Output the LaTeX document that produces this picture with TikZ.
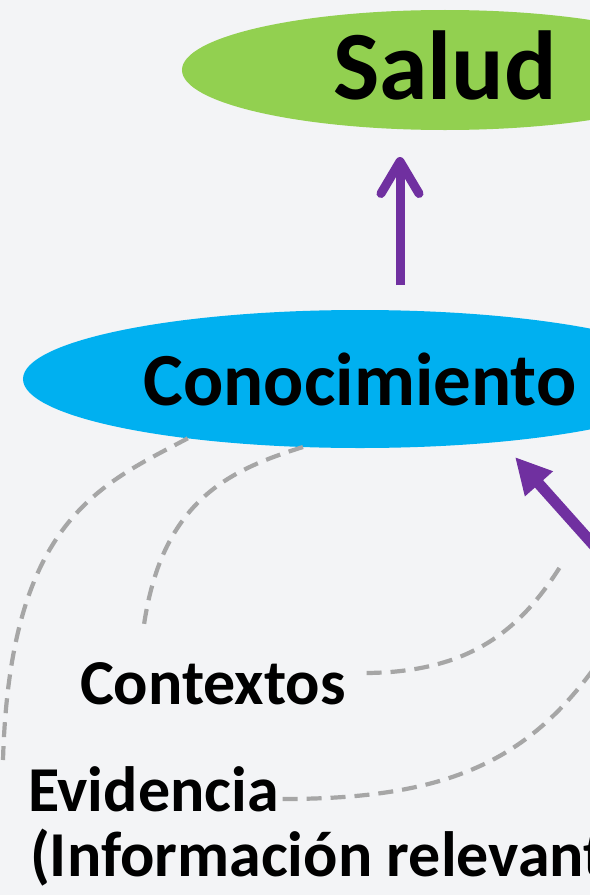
\documentclass[tikz,border=0pt]{standalone}
\usepackage{fontspec}
\setmainfont{Carlito}
\usetikzlibrary{shapes.geometric,arrows.meta}
\definecolor{bgc}{HTML}{F3F4F6}
\definecolor{sgreen}{HTML}{92D050}
\definecolor{sblue}{HTML}{00B0F0}
\definecolor{spurple}{HTML}{7030A0}
\definecolor{sgrey}{HTML}{A6A6A6}
\begin{document}
\begin{tikzpicture}[x=1bp,y=1bp,
  ell/.style={ellipse, inner sep=0pt, outer sep=0pt, draw=none},
  txt/.style={inner sep=0pt, outer sep=0pt, anchor=base west, text=black},
  bigtxt/.style={font=\fontsize{64bp}{64bp}\selectfont\bfseries},
  dashcurve/.style={draw=sgrey, line width=4.2bp, dash pattern=on 15bp off 9bp},
  uparr/.style={draw=spurple, line width=9bp, line cap=butt,
     -{Straight Barb[length=32bp,width=38bp,round]}},
  diagarr/.style={draw=spurple, line width=11bp,
     -{Triangle[length=36bp,width=35bp]}}
]
\useasboundingbox (0,0) rectangle (590,-895);
\clip (0,0) rectangle (590,-895);
\fill[bgc] (0,0) rectangle (590,-895);

% ellipses
\node[ell, fill=sgreen, minimum width=526bp, minimum height=120bp] (salud) at (445,-70) {};
\node[ell, fill=sblue, minimum width=674bp, minimum height=138bp] (con) at (360,-379) {};

% labels
\node[txt, anchor=base, font=\fontsize{98bp}{98bp}\selectfont\bfseries] (saludt) at (445,-99) {Salud};
\node[txt, anchor=base, font=\fontsize{75bp}{75bp}\selectfont\bfseries] (cont) at (360,-405) {Conocimiento};
\node[txt, bigtxt] (ctx) at (80,-704) {Contextos};
\node[txt, bigtxt] (evid) at (28,-811) {Evidencia};
\node[txt, bigtxt] (info) at (30,-876) {(Información relevante)};

% coordinates for free ends
\coordinate (upx) at (400,0);
\coordinate (src) at (640,-597);
\coordinate (tipB) at (515,-457);
\coordinate (afree) at (3,-760);
\coordinate (bfree) at (143,-632);
\coordinate (cfree) at (560,-567);
\coordinate (dfree) at (600,-660);

% arrows
\draw[uparr, shorten <=25bp, shorten >=27bp] (upx |- con.north) -- (upx |- salud.south);
\draw[diagarr] (src) -- (tipB);

% dashed curves
\draw[dashcurve] (con.199) .. controls (100,-485) and (10,-520) .. (afree);
\draw[dashcurve] (con.230) .. controls (230,-470) and (160,-500) .. (bfree);
\draw[dashcurve] ([shift={(21,31)}]ctx.base east) .. controls (470,-672) and (520,-630) .. (cfree);
\draw[dashcurve] ([shift={(4,12)}]evid.base east) .. controls (450,-799) and (530,-760) .. (dfree);
\end{tikzpicture}
\end{document}
